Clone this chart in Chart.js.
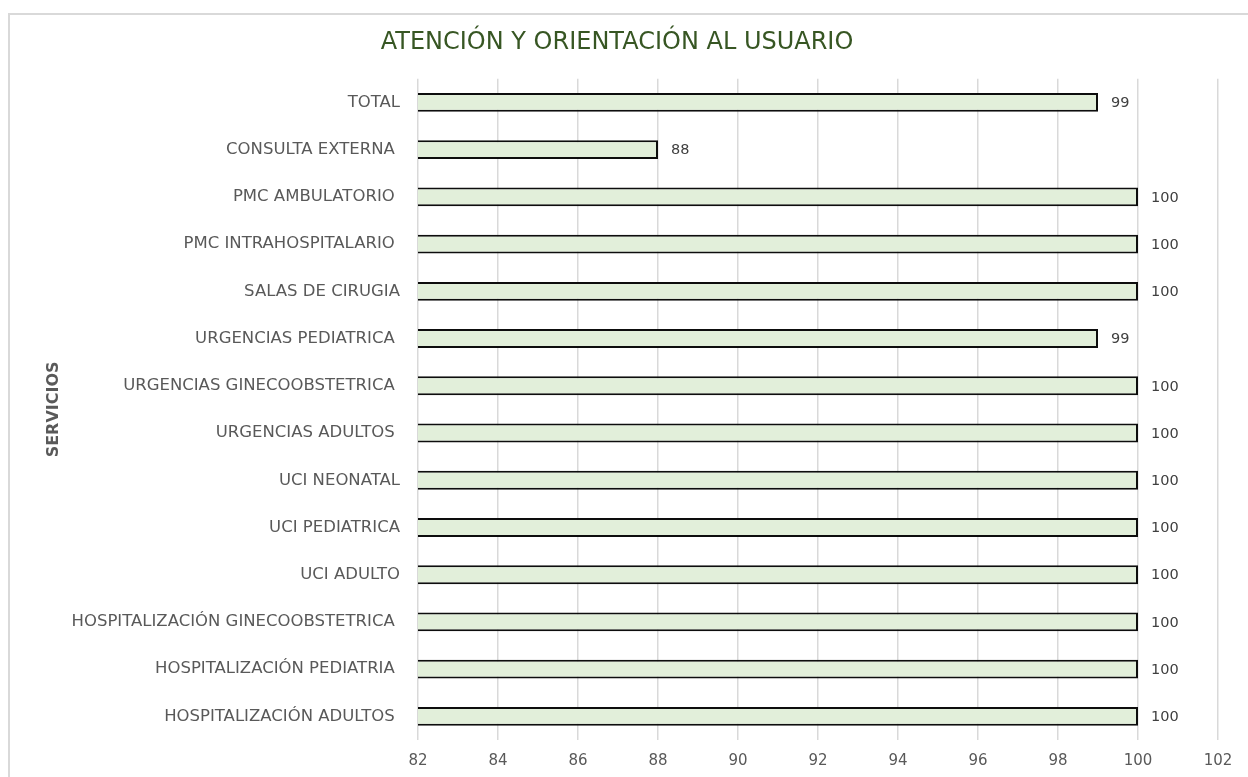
<!DOCTYPE html>
<html>
<head>
<meta charset="utf-8">
<title>Atención y orientación al usuario</title>
<script src="https://cdn.jsdelivr.net/npm/chart.js@4.4.0/dist/chart.umd.min.js"></script>
<style>
    body { margin: 0; background: #ffffff; overflow: hidden; }
    #frame {
        position: absolute; left: 8px; top: 13px;
        width: 1300px; height: 820px;
        border: 2px solid #d9d9d9;
    }
    #wrap { position: absolute; left: 0; top: 0; width: 1248px; height: 777px; }
</style>
</head>
<body>
<div id="frame"></div>
<div id="wrap"><canvas id="myChart" width="1248" height="777"></canvas></div>
<script>
const servicios = [
    "TOTAL",
    "CONSULTA EXTERNA ",
    "PMC AMBULATORIO ",
    "PMC INTRAHOSPITALARIO ",
    "SALAS DE CIRUGIA",
    "URGENCIAS PEDIATRICA ",
    "URGENCIAS GINECOOBSTETRICA ",
    "URGENCIAS ADULTOS ",
    "UCI NEONATAL",
    "UCI PEDIATRICA",
    "UCI ADULTO",
    "HOSPITALIZACIÓN GINECOOBSTETRICA ",
    "HOSPITALIZACIÓN PEDIATRIA ",
    "HOSPITALIZACIÓN ADULTOS "
];
const valores = [99, 88, 100, 100, 100, 99, 100, 100, 100, 100, 100, 100, 100, 100];
const ejeMin = 82;
const ejeMax = 102;
const ejePaso = 2;

const fontFamily = "'DejaVu Sans', Verdana, sans-serif";

// values written to the right of each bar
const etiquetas = {
    id: 'etiquetas',
    afterDatasetsDraw(chart) {
        const ctx = chart.ctx;
        const meta = chart.getDatasetMeta(0);
        ctx.save();
        ctx.font = "14.5px " + fontFamily;
        ctx.fillStyle = '#404040';
        ctx.textAlign = 'left';
        ctx.textBaseline = 'middle';
        meta.data.forEach((bar, i) => {
            ctx.fillText(chart.data.datasets[0].data[i], bar.x + 13, bar.y + 1);
        });
        ctx.restore();
    }
};

const chartCanvas = document.getElementById('myChart');

var myChart = new Chart(chartCanvas, {
    type: 'bar',
    data: {
        labels: servicios,
        datasets: [
            {
                label: 'Atención y orientación al usuario',
                data: valores,
                backgroundColor: '#e2efda',
                borderColor: '#0d0d0d',
                borderWidth: 2,
                borderSkipped: false,
                categoryPercentage: 1,
                barPercentage: 0.4
            }]
    },
    options: {
        indexAxis: 'y',
        responsive: false,
        animation: false,
        layout: {
            padding: { left: 16, right: 30, top: 0, bottom: 0 }
        },
        scales: {
            x: {
                min: ejeMin,
                max: ejeMax,
                afterFit: scale => { scale.height = 37; },
                ticks: {
                    stepSize: ejePaso,
                    padding: 12,
                    color: '#595959',
                    font: { family: fontFamily, size: 15 }
                },
                grid: {
                    color: '#d9d9d9',
                    lineWidth: 1.5,
                    drawTicks: false
                },
                border: { display: false }
            },
            y: {
                afterFit: scale => { scale.width = 402; },
                ticks: {
                    padding: 18,
                    color: '#595959',
                    font: { family: fontFamily, size: 16.5 }
                },
                grid: { display: false, drawTicks: false },
                border: { display: false },
                title: {
                    display: true,
                    text: 'SERVICIOS',
                    color: '#595959',
                    padding: { top: 28, bottom: 0 },
                    font: { family: fontFamily, size: 16, weight: 'bold' }
                }
            }
        },
        plugins: {
            legend: { display: false },
            tooltip: { enabled: false },
            title: {
                display: true,
                text: 'ATENCIÓN Y ORIENTACIÓN AL USUARIO',
                color: '#375623',
                padding: { top: 28, bottom: 22 },
                font: { family: fontFamily, size: 24, weight: 'normal' }
            }
        }
    },
    plugins: [etiquetas]
});
</script>
</body>
</html>
